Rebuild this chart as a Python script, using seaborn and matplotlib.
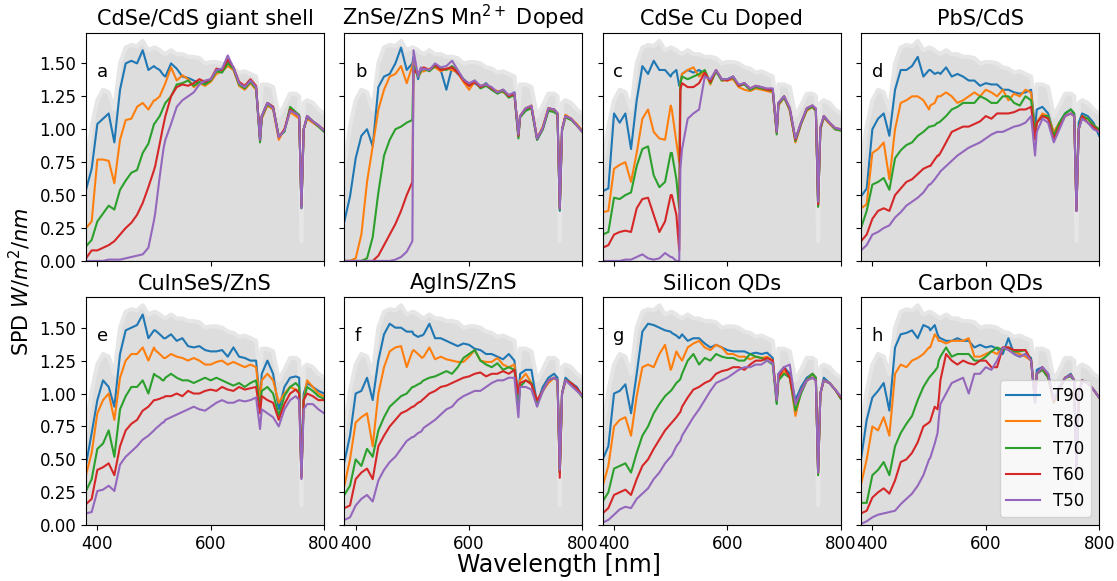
import pandas as pd
import seaborn as sns
import matplotlib.pyplot as plt

# wavelength grid (nm), shared by every curve
wl = [380, 390, 400, 410, 420, 430, 440, 450, 460, 470,
      480, 490, 500, 502, 510, 515, 517, 520, 530, 540,
      550, 560, 570, 580, 590, 600, 610, 620, 630, 640,
      650, 660, 670, 680, 687, 690, 700, 710, 720, 730,
      740, 750, 756, 760, 764, 770, 780, 790, 800]

# AM1.5 reference spectrum (grey background)
solar = [0.72, 1.02, 1.22, 1.30, 1.28, 1.15, 1.50, 1.62, 1.64, 1.63,
         1.67, 1.60, 1.62, 1.62, 1.60, 1.58, 1.58, 1.57, 1.60, 1.57,
         1.57, 1.55, 1.55, 1.54, 1.50, 1.51, 1.51, 1.50, 1.47, 1.46,
         1.43, 1.44, 1.42, 1.40, 1.12, 1.34, 1.34, 1.32, 1.10, 1.18,
         1.27, 1.27, 1.25, 0.15, 1.20, 1.22, 1.20, 1.15, 1.12]

series = ['T90', 'T80', 'T70', 'T60', 'T50']
titles = ['CdSe/CdS giant shell', 'ZnSe/ZnS Mn$^{2+}$ Doped', 'CdSe Cu Doped', 'PbS/CdS',
          'CuInSeS/ZnS', 'AgInS/ZnS', 'Silicon QDs', 'Carbon QDs']
letters = ['a', 'b', 'c', 'd', 'e', 'f', 'g', 'h']

# a: CdSe/CdS giant shell
a_T90 = [0.54, 0.70, 1.04, 1.08, 1.12, 0.90, 1.30, 1.50, 1.52, 1.50,
         1.60, 1.45, 1.48, 1.47, 1.45, 1.42, 1.41, 1.40, 1.50, 1.46,
         1.40, 1.39, 1.37, 1.35, 1.35, 1.37, 1.45, 1.45, 1.52, 1.47,
         1.35, 1.32, 1.37, 1.32, 0.92, 1.10, 1.20, 1.17, 0.94, 0.99,
         1.15, 1.12, 1.10, 0.41, 1.00, 1.10, 1.06, 1.03, 0.99]
a_T80 = [0.25, 0.30, 0.77, 0.77, 0.76, 0.59, 0.92, 1.07, 1.08, 1.17,
         1.20, 1.15, 1.22, 1.22, 1.25, 1.30, 1.32, 1.35, 1.47, 1.37,
         1.41, 1.38, 1.32, 1.35, 1.33, 1.36, 1.42, 1.44, 1.48, 1.45,
         1.33, 1.30, 1.35, 1.30, 0.95, 1.08, 1.18, 1.15, 0.92, 1.00,
         1.13, 1.10, 1.08, 0.42, 1.00, 1.08, 1.05, 1.02, 1.00]
a_T70 = [0.11, 0.16, 0.30, 0.36, 0.42, 0.39, 0.54, 0.61, 0.67, 0.69,
         0.82, 0.89, 1.04, 1.05, 1.10, 1.15, 1.17, 1.20, 1.25, 1.34,
         1.35, 1.37, 1.33, 1.36, 1.34, 1.37, 1.44, 1.43, 1.50, 1.46,
         1.34, 1.31, 1.36, 1.31, 0.90, 1.09, 1.19, 1.16, 0.95, 0.98,
         1.17, 1.13, 1.11, 0.40, 1.00, 1.09, 1.06, 1.02, 0.98]
a_T60 = [0.02, 0.08, 0.08, 0.10, 0.12, 0.15, 0.20, 0.25, 0.29, 0.35,
         0.44, 0.56, 0.69, 0.72, 0.89, 1.00, 1.04, 1.10, 1.25, 1.32,
         1.34, 1.33, 1.35, 1.38, 1.36, 1.38, 1.46, 1.45, 1.53, 1.47,
         1.36, 1.33, 1.38, 1.33, 0.92, 1.10, 1.20, 1.17, 0.94, 1.00,
         1.15, 1.12, 1.10, 0.42, 1.00, 1.10, 1.06, 1.03, 0.99]
a_T50 = [0.00, 0.00, 0.00, 0.00, 0.01, 0.01, 0.01, 0.02, 0.03, 0.04,
         0.05, 0.10, 0.31, 0.36, 0.64, 0.80, 0.86, 0.92, 1.04, 1.17,
         1.22, 1.25, 1.28, 1.34, 1.37, 1.38, 1.45, 1.46, 1.56, 1.47,
         1.35, 1.32, 1.37, 1.32, 0.92, 1.10, 1.20, 1.16, 0.94, 0.99,
         1.14, 1.12, 1.10, 0.40, 1.00, 1.10, 1.06, 1.03, 0.99]

# b: ZnSe/ZnS Mn doped
b_T90 = [0.30, 0.49, 0.78, 0.95, 1.00, 0.87, 1.32, 1.40, 1.42, 1.50,
         1.62, 1.45, 1.50, 1.55, 1.38, 1.45, 1.45, 1.45, 1.45, 1.48,
         1.45, 1.30, 1.47, 1.42, 1.38, 1.33, 1.35, 1.32, 1.35, 1.30,
         1.28, 1.30, 1.25, 1.28, 0.95, 1.10, 1.15, 1.17, 0.92, 1.00,
         1.15, 1.15, 1.12, 0.38, 1.00, 1.10, 1.08, 1.03, 0.98]
b_T80 = [0.00, 0.00, 0.02, 0.20, 0.60, 0.87, 1.15, 1.30, 1.40, 1.42,
         1.48, 1.35, 1.48, 1.52, 1.40, 1.43, 1.44, 1.44, 1.46, 1.47,
         1.44, 1.46, 1.45, 1.43, 1.36, 1.30, 1.36, 1.33, 1.34, 1.31,
         1.29, 1.28, 1.26, 1.27, 0.96, 1.10, 1.16, 1.18, 0.93, 1.02,
         1.16, 1.14, 1.12, 0.40, 1.00, 1.11, 1.08, 1.04, 0.99]
b_T70 = [0.00, 0.00, 0.00, 0.00, 0.02, 0.18, 0.52, 0.80, 0.92, 1.00,
         1.02, 1.05, 1.07, 1.48, 1.40, 1.44, 1.45, 1.46, 1.44, 1.48,
         1.46, 1.45, 1.48, 1.44, 1.38, 1.34, 1.37, 1.31, 1.33, 1.30,
         1.27, 1.29, 1.24, 1.26, 0.93, 1.09, 1.14, 1.16, 0.92, 1.00,
         1.14, 1.13, 1.11, 0.39, 0.99, 1.09, 1.07, 1.03, 0.98]
b_T60 = [0.00, 0.00, 0.00, 0.00, 0.00, 0.00, 0.04, 0.12, 0.20, 0.28,
         0.38, 0.50, 0.60, 1.45, 1.42, 1.46, 1.46, 1.47, 1.45, 1.49,
         1.45, 1.46, 1.47, 1.43, 1.37, 1.33, 1.36, 1.32, 1.34, 1.31,
         1.28, 1.30, 1.25, 1.27, 0.95, 1.10, 1.16, 1.17, 0.93, 1.01,
         1.16, 1.15, 1.12, 0.40, 1.00, 1.10, 1.08, 1.03, 0.98]
b_T50 = [0.00, 0.00, 0.00, 0.00, 0.00, 0.00, 0.00, 0.00, 0.00, 0.01,
         0.03, 0.07, 0.15, 1.60, 1.40, 1.47, 1.45, 1.46, 1.45, 1.50,
         1.47, 1.48, 1.52, 1.45, 1.38, 1.35, 1.37, 1.33, 1.34, 1.32,
         1.28, 1.30, 1.26, 1.28, 0.96, 1.10, 1.16, 1.18, 0.93, 1.01,
         1.16, 1.15, 1.12, 0.40, 1.00, 1.10, 1.08, 1.03, 0.98]

# c: CdSe Cu doped
c_T90 = [0.53, 0.55, 1.12, 1.05, 1.12, 0.85, 1.22, 1.48, 1.42, 1.52,
         1.45, 1.45, 1.40, 1.42, 1.45, 1.33, 1.35, 1.42, 1.45, 1.43,
         1.45, 1.42, 1.36, 1.44, 1.38, 1.38, 1.40, 1.33, 1.35, 1.30,
         1.32, 1.32, 1.30, 1.30, 0.98, 1.20, 1.25, 1.15, 0.92, 1.05,
         1.15, 1.18, 1.15, 0.42, 1.00, 1.10, 1.05, 1.00, 1.00]
c_T80 = [0.37, 0.38, 0.70, 0.73, 0.75, 0.60, 0.82, 1.08, 1.15, 0.98,
         0.93, 0.92, 1.18, 1.15, 0.90, 0.75, 1.35, 1.42, 1.45, 1.47,
         1.40, 1.44, 1.34, 1.45, 1.37, 1.37, 1.38, 1.32, 1.30, 1.29,
         1.31, 1.30, 1.29, 1.28, 0.97, 1.18, 1.24, 1.14, 0.90, 1.04,
         1.14, 1.17, 1.14, 0.42, 1.00, 1.09, 1.04, 1.00, 0.99]
c_T70 = [0.20, 0.22, 0.48, 0.47, 0.50, 0.52, 0.72, 0.85, 0.87, 0.65,
         0.56, 0.60, 0.82, 0.82, 0.62, 0.40, 1.35, 1.40, 1.38, 1.40,
         1.42, 1.45, 1.35, 1.44, 1.37, 1.38, 1.39, 1.33, 1.34, 1.30,
         1.32, 1.31, 1.30, 1.29, 0.96, 1.19, 1.24, 1.15, 0.91, 1.04,
         1.15, 1.17, 1.14, 0.41, 1.00, 1.09, 1.05, 1.00, 0.99]
c_T60 = [0.10, 0.12, 0.20, 0.22, 0.23, 0.22, 0.40, 0.47, 0.48, 0.35,
         0.22, 0.30, 0.50, 0.50, 0.35, 0.08, 1.30, 1.35, 1.32, 1.32,
         1.35, 1.43, 1.36, 1.45, 1.38, 1.37, 1.40, 1.33, 1.35, 1.31,
         1.33, 1.32, 1.30, 1.30, 0.98, 1.20, 1.25, 1.16, 0.92, 1.05,
         1.16, 1.18, 1.15, 0.43, 1.01, 1.10, 1.05, 1.01, 1.00]
c_T50 = [0.00, 0.00, 0.00, 0.00, 0.01, 0.01, 0.03, 0.05, 0.02, 0.01,
         0.02, 0.06, 0.03, 0.03, 0.00, 0.00, 0.70, 0.85, 1.08, 1.12,
         1.15, 1.40, 1.38, 1.45, 1.38, 1.38, 1.40, 1.34, 1.35, 1.31,
         1.33, 1.32, 1.31, 1.31, 0.98, 1.20, 1.25, 1.16, 0.93, 1.05,
         1.16, 1.18, 1.16, 0.45, 1.02, 1.10, 1.05, 1.01, 1.00]

# d: PbS/CdS
d_T90 = [0.49, 0.55, 1.00, 1.08, 1.12, 0.95, 1.30, 1.45, 1.45, 1.48,
         1.55, 1.40, 1.45, 1.45, 1.42, 1.43, 1.43, 1.42, 1.47, 1.40,
         1.42, 1.40, 1.37, 1.37, 1.33, 1.35, 1.34, 1.34, 1.30, 1.30,
         1.28, 1.27, 1.28, 1.30, 1.00, 1.15, 1.17, 1.12, 0.97, 1.05,
         1.12, 1.15, 1.12, 0.38, 1.05, 1.12, 1.10, 1.05, 0.95]
d_T80 = [0.40, 0.43, 0.82, 0.85, 0.90, 0.62, 1.00, 1.20, 1.22, 1.25,
         1.25, 1.22, 1.15, 1.18, 1.20, 1.25, 1.25, 1.25, 1.28, 1.25,
         1.20, 1.22, 1.25, 1.28, 1.25, 1.30, 1.28, 1.25, 1.30, 1.22,
         1.27, 1.25, 1.30, 1.28, 0.98, 1.05, 1.12, 1.10, 0.98, 1.05,
         1.10, 1.12, 1.10, 0.40, 1.00, 1.10, 1.08, 1.03, 1.00]
d_T70 = [0.25, 0.38, 0.58, 0.60, 0.63, 0.54, 0.78, 0.84, 0.88, 0.90,
         0.95, 0.98, 1.02, 1.02, 1.03, 1.05, 1.05, 1.06, 1.10, 1.15,
         1.17, 1.20, 1.20, 1.20, 1.25, 1.23, 1.20, 1.20, 1.25, 1.25,
         1.20, 1.18, 1.25, 1.22, 0.98, 1.05, 1.10, 1.10, 0.95, 1.05,
         1.12, 1.15, 1.12, 0.40, 1.00, 1.10, 1.08, 1.03, 1.00]
d_T60 = [0.15, 0.20, 0.32, 0.38, 0.40, 0.38, 0.50, 0.55, 0.60, 0.62,
         0.66, 0.70, 0.72, 0.72, 0.77, 0.80, 0.80, 0.82, 0.90, 0.98,
         1.00, 1.02, 1.02, 1.04, 1.06, 1.10, 1.08, 1.12, 1.12, 1.12,
         1.13, 1.15, 1.15, 1.17, 0.92, 1.05, 1.10, 1.08, 0.92, 1.02,
         1.10, 1.12, 1.10, 0.38, 1.00, 1.10, 1.05, 1.02, 0.98]
d_T50 = [0.08, 0.12, 0.20, 0.22, 0.25, 0.27, 0.33, 0.37, 0.42, 0.45,
         0.48, 0.52, 0.58, 0.58, 0.62, 0.65, 0.66, 0.68, 0.72, 0.76,
         0.80, 0.83, 0.86, 0.88, 0.90, 0.93, 0.96, 0.98, 0.98, 1.00,
         1.02, 1.03, 1.05, 1.10, 0.80, 0.98, 1.08, 1.05, 0.90, 1.00,
         1.10, 1.12, 1.10, 0.38, 1.00, 1.08, 1.05, 1.00, 0.98]

# e: CuInSeS/ZnS
e_T90 = [0.46, 0.70, 0.95, 1.10, 1.05, 0.90, 1.30, 1.48, 1.50, 1.52,
         1.60, 1.42, 1.48, 1.48, 1.45, 1.43, 1.42, 1.42, 1.45, 1.40,
         1.42, 1.36, 1.35, 1.36, 1.33, 1.32, 1.32, 1.33, 1.28, 1.35,
         1.28, 1.27, 1.25, 1.25, 0.93, 1.15, 1.25, 1.15, 0.88, 1.05,
         1.12, 1.13, 1.12, 0.38, 1.00, 1.08, 1.05, 1.02, 1.00]
e_T80 = [0.38, 0.55, 0.85, 0.95, 1.00, 0.80, 1.12, 1.25, 1.30, 1.30,
         1.35, 1.25, 1.35, 1.33, 1.30, 1.28, 1.27, 1.27, 1.30, 1.28,
         1.27, 1.25, 1.27, 1.25, 1.22, 1.22, 1.24, 1.25, 1.22, 1.24,
         1.22, 1.20, 1.22, 1.20, 0.93, 1.10, 1.15, 1.10, 0.93, 1.00,
         1.05, 1.03, 1.02, 0.37, 0.95, 1.10, 1.05, 1.00, 0.98]
e_T70 = [0.26, 0.35, 0.58, 0.62, 0.72, 0.52, 0.88, 0.98, 1.05, 1.05,
         1.10, 1.00, 1.15, 1.14, 1.12, 1.10, 1.10, 1.12, 1.15, 1.12,
         1.10, 1.10, 1.08, 1.10, 1.12, 1.10, 1.12, 1.10, 1.08, 1.06,
         1.08, 1.05, 1.08, 1.10, 0.90, 1.02, 1.05, 1.00, 0.83, 0.98,
         1.05, 1.08, 1.05, 0.37, 0.95, 1.05, 1.02, 0.98, 0.96]
e_T60 = [0.16, 0.20, 0.42, 0.44, 0.47, 0.38, 0.60, 0.72, 0.77, 0.80,
         0.87, 0.90, 0.95, 0.95, 0.96, 0.97, 0.97, 0.98, 0.98, 1.00,
         0.98, 1.02, 1.00, 1.00, 1.02, 1.03, 1.02, 1.05, 1.03, 1.02,
         1.05, 1.03, 1.04, 1.05, 0.85, 0.98, 0.95, 0.93, 0.80, 0.92,
         1.00, 1.03, 1.00, 0.36, 0.95, 1.00, 0.98, 0.95, 0.95]
e_T50 = [0.09, 0.10, 0.26, 0.27, 0.30, 0.26, 0.46, 0.52, 0.56, 0.60,
         0.65, 0.68, 0.72, 0.73, 0.76, 0.78, 0.78, 0.80, 0.82, 0.84,
         0.86, 0.88, 0.90, 0.88, 0.87, 0.90, 0.93, 0.95, 0.93, 0.93,
         0.95, 0.94, 0.95, 0.97, 0.73, 0.88, 0.85, 0.82, 0.75, 0.88,
         0.95, 0.98, 0.95, 0.35, 0.88, 0.92, 0.92, 0.88, 0.85]

# f: AgInS/ZnS
f_T90 = [0.48, 0.68, 1.00, 1.02, 1.12, 0.95, 1.25, 1.45, 1.53, 1.50,
         1.50, 1.47, 1.47, 1.45, 1.43, 1.44, 1.44, 1.45, 1.53, 1.42,
         1.42, 1.40, 1.38, 1.36, 1.38, 1.37, 1.34, 1.33, 1.30, 1.30,
         1.28, 1.26, 1.30, 1.25, 0.95, 1.15, 1.18, 1.18, 0.92, 1.05,
         1.12, 1.15, 1.12, 0.41, 1.00, 1.12, 1.08, 1.05, 0.98]
f_T80 = [0.30, 0.50, 0.78, 0.82, 0.85, 0.60, 1.00, 1.20, 1.32, 1.35,
         1.36, 1.20, 1.32, 1.33, 1.30, 1.28, 1.27, 1.28, 1.35, 1.26,
         1.28, 1.26, 1.25, 1.24, 1.24, 1.28, 1.33, 1.25, 1.24, 1.24,
         1.27, 1.22, 1.20, 1.22, 0.90, 1.10, 1.15, 1.08, 0.92, 1.02,
         1.08, 1.12, 1.10, 0.40, 1.00, 1.10, 1.08, 1.03, 0.98]
f_T70 = [0.23, 0.30, 0.50, 0.45, 0.58, 0.52, 0.72, 0.82, 0.90, 0.94,
         0.98, 1.00, 1.05, 1.05, 1.07, 1.08, 1.09, 1.10, 1.12, 1.13,
         1.15, 1.17, 1.15, 1.20, 1.27, 1.30, 1.33, 1.25, 1.22, 1.20,
         1.23, 1.18, 1.20, 1.18, 0.90, 1.05, 1.10, 1.08, 0.92, 1.02,
         1.10, 1.12, 1.10, 0.40, 1.00, 1.10, 1.08, 1.03, 0.97]
f_T60 = [0.13, 0.15, 0.35, 0.40, 0.43, 0.35, 0.60, 0.68, 0.75, 0.80,
         0.85, 0.87, 0.90, 0.90, 0.93, 0.94, 0.95, 0.96, 1.00, 1.02,
         1.05, 1.06, 1.08, 1.10, 1.12, 1.13, 1.15, 1.16, 1.13, 1.15,
         1.15, 1.17, 1.15, 1.18, 1.00, 1.08, 1.10, 1.07, 0.95, 1.02,
         1.10, 1.12, 1.10, 0.36, 1.00, 1.10, 1.08, 1.04, 0.98]
f_T50 = [0.04, 0.06, 0.15, 0.20, 0.23, 0.18, 0.34, 0.42, 0.48, 0.52,
         0.58, 0.64, 0.67, 0.67, 0.70, 0.71, 0.72, 0.74, 0.77, 0.80,
         0.84, 0.88, 0.90, 0.95, 0.98, 1.00, 1.02, 1.02, 1.05, 1.08,
         1.10, 1.10, 1.12, 1.12, 0.82, 1.05, 1.05, 1.03, 0.90, 1.02,
         1.10, 1.12, 1.10, 0.42, 1.00, 1.10, 1.06, 1.02, 0.98]

# g: Silicon QDs
g_T90 = [0.50, 0.60, 1.00, 1.02, 1.07, 0.85, 1.15, 1.47, 1.53, 1.52,
         1.50, 1.48, 1.47, 1.46, 1.44, 1.42, 1.43, 1.45, 1.40, 1.42,
         1.42, 1.38, 1.35, 1.37, 1.35, 1.33, 1.32, 1.32, 1.32, 1.30,
         1.31, 1.30, 1.31, 1.27, 0.93, 1.15, 1.20, 1.15, 0.95, 1.05,
         1.12, 1.15, 1.12, 0.40, 1.00, 1.12, 1.08, 1.03, 0.97]
g_T80 = [0.30, 0.45, 0.75, 0.80, 0.82, 0.68, 0.98, 1.20, 1.22, 1.20,
         1.30, 1.37, 1.18, 1.20, 1.32, 1.28, 1.27, 1.25, 1.35, 1.38,
         1.40, 1.35, 1.33, 1.37, 1.35, 1.30, 1.30, 1.28, 1.28, 1.26,
         1.28, 1.27, 1.28, 1.25, 0.96, 1.12, 1.17, 1.13, 0.83, 1.02,
         1.10, 1.15, 1.12, 0.40, 1.00, 1.10, 1.08, 1.03, 0.97]
g_T70 = [0.18, 0.25, 0.43, 0.45, 0.47, 0.40, 0.55, 0.68, 0.75, 0.85,
         0.92, 0.98, 1.02, 1.03, 1.08, 1.10, 1.11, 1.15, 1.25, 1.30,
         1.22, 1.27, 1.25, 1.30, 1.28, 1.27, 1.27, 1.25, 1.25, 1.30,
         1.28, 1.27, 1.25, 1.22, 0.92, 1.10, 1.15, 1.12, 0.87, 1.00,
         1.10, 1.15, 1.12, 0.38, 1.00, 1.10, 1.08, 1.03, 0.96]
g_T60 = [0.09, 0.13, 0.23, 0.25, 0.27, 0.23, 0.35, 0.45, 0.50, 0.58,
         0.65, 0.72, 0.77, 0.78, 0.82, 0.85, 0.86, 0.90, 0.97, 1.03,
         1.05, 1.08, 1.10, 1.15, 1.17, 1.18, 1.20, 1.20, 1.18, 1.22,
         1.25, 1.25, 1.27, 1.25, 0.95, 1.12, 1.20, 1.12, 0.92, 1.02,
         1.10, 1.12, 1.10, 0.40, 1.00, 1.10, 1.08, 1.03, 0.97]
g_T50 = [0.02, 0.04, 0.08, 0.12, 0.14, 0.13, 0.20, 0.24, 0.28, 0.35,
         0.40, 0.47, 0.52, 0.53, 0.60, 0.63, 0.64, 0.68, 0.75, 0.82,
         0.88, 0.95, 1.02, 1.08, 1.10, 1.12, 1.15, 1.18, 1.20, 1.20,
         1.22, 1.22, 1.25, 1.23, 0.95, 1.15, 1.20, 1.22, 0.92, 1.02,
         1.10, 1.12, 1.10, 0.40, 1.00, 1.10, 1.08, 1.03, 0.98]

# h: Carbon QDs
h_T90 = [0.50, 0.80, 0.97, 1.02, 1.08, 0.87, 1.35, 1.45, 1.46, 1.48,
         1.42, 1.52, 1.50, 1.48, 1.52, 1.45, 1.43, 1.42, 1.40, 1.40,
         1.42, 1.40, 1.40, 1.35, 1.37, 1.35, 1.36, 1.34, 1.30, 1.42,
         1.30, 1.28, 1.30, 1.27, 0.95, 1.18, 1.20, 1.15, 0.95, 1.05,
         1.12, 1.15, 1.10, 0.40, 1.00, 1.10, 1.08, 1.03, 0.97]
h_T80 = [0.31, 0.50, 0.75, 0.72, 0.82, 0.68, 1.15, 1.22, 1.20, 1.25,
         1.27, 1.30, 1.35, 1.35, 1.45, 1.42, 1.40, 1.40, 1.38, 1.40,
         1.40, 1.40, 1.42, 1.28, 1.28, 1.30, 1.32, 1.30, 1.35, 1.34,
         1.32, 1.30, 1.28, 1.25, 0.95, 1.15, 1.18, 1.13, 0.93, 1.04,
         1.12, 1.14, 1.10, 0.40, 1.00, 1.10, 1.08, 1.03, 0.97]
h_T70 = [0.17, 0.17, 0.38, 0.42, 0.48, 0.38, 0.60, 0.70, 0.77, 0.83,
         0.95, 1.05, 1.12, 1.13, 1.17, 1.20, 1.25, 1.28, 1.35, 1.28,
         1.30, 1.30, 1.30, 1.25, 1.25, 1.28, 1.32, 1.35, 1.33, 1.35,
         1.32, 1.32, 1.33, 1.25, 0.93, 1.15, 1.18, 1.12, 0.93, 1.03,
         1.12, 1.13, 1.10, 0.39, 1.00, 1.10, 1.08, 1.03, 0.97]
h_T60 = [0.09, 0.11, 0.21, 0.25, 0.28, 0.24, 0.34, 0.48, 0.50, 0.55,
         0.63, 0.75, 0.78, 0.79, 0.90, 0.88, 0.95, 1.10, 1.30, 1.25,
         1.22, 1.25, 1.23, 1.22, 1.25, 1.25, 1.20, 1.20, 1.35, 1.35,
         1.33, 1.33, 1.33, 1.25, 0.95, 1.15, 1.20, 1.14, 0.94, 1.04,
         1.12, 1.14, 1.10, 0.40, 1.00, 1.10, 1.08, 1.03, 0.97]
h_T50 = [0.01, 0.03, 0.06, 0.08, 0.09, 0.10, 0.11, 0.16, 0.20, 0.24,
         0.30, 0.38, 0.50, 0.51, 0.62, 0.70, 0.80, 0.92, 1.00, 1.08,
         1.10, 1.12, 1.00, 1.15, 1.15, 1.20, 1.18, 1.25, 1.35, 1.33,
         1.30, 1.28, 1.30, 1.25, 0.93, 1.15, 1.20, 1.15, 0.95, 1.05,
         1.12, 1.14, 1.10, 0.40, 1.00, 1.10, 1.08, 1.03, 0.97]

panels = [
    [a_T90, a_T80, a_T70, a_T60, a_T50],
    [b_T90, b_T80, b_T70, b_T60, b_T50],
    [c_T90, c_T80, c_T70, c_T60, c_T50],
    [d_T90, d_T80, d_T70, d_T60, d_T50],
    [e_T90, e_T80, e_T70, e_T60, e_T50],
    [f_T90, f_T80, f_T70, f_T60, f_T50],
    [g_T90, g_T80, g_T70, g_T60, g_T50],
    [h_T90, h_T80, h_T70, h_T60, h_T50],
]

palette = sns.color_palette('tab10', 5)

fig, axes = plt.subplots(2, 4, figsize=(11.17, 5.81), dpi=100, sharex=True, sharey=True)
fig.subplots_adjust(left=0.077, right=0.984, top=0.943, bottom=0.096, wspace=0.085, hspace=0.16)

for i, ax in enumerate(axes.flat):
    ax.fill_between(wl, 0, solar, color='#dddddd', lw=0, zorder=0)
    ax.plot(wl, solar, color='#e6e6e6', lw=3, zorder=0.5)

    rows = []
    for name, vals in zip(series, panels[i]):
        for x, y in zip(wl, vals):
            rows.append({'wl': x, 'SPD': y, 'series': name})
    df = pd.DataFrame(rows)
    sns.lineplot(data=df, x='wl', y='SPD', hue='series', hue_order=series,
                 palette=palette, linewidth=1.5, ax=ax, legend=(i == 7))

    ax.set_title(titles[i], fontsize=15)
    ax.text(0.045, 0.83, letters[i], transform=ax.transAxes, fontsize=13, va='center')
    ax.set(xlabel='', ylabel='')
    ax.tick_params(labelsize=12)

axes[0, 0].set_xlim(380, 800)
axes[0, 0].set_ylim(0, 1.73)
axes[0, 0].set_xticks([400, 600, 800])
axes[0, 0].set_yticks([0, 0.25, 0.5, 0.75, 1.0, 1.25, 1.5])

axes[1, 3].legend(loc='lower right', fontsize=12)

fig.text(0.5, 0.028, 'Wavelength [nm]', ha='center', va='center', fontsize=17)
fig.text(0.018, 0.515, 'SPD $W/m^2/nm$', rotation=90, ha='center', va='center', fontsize=15)

fig.savefig('out.png', dpi=100)
